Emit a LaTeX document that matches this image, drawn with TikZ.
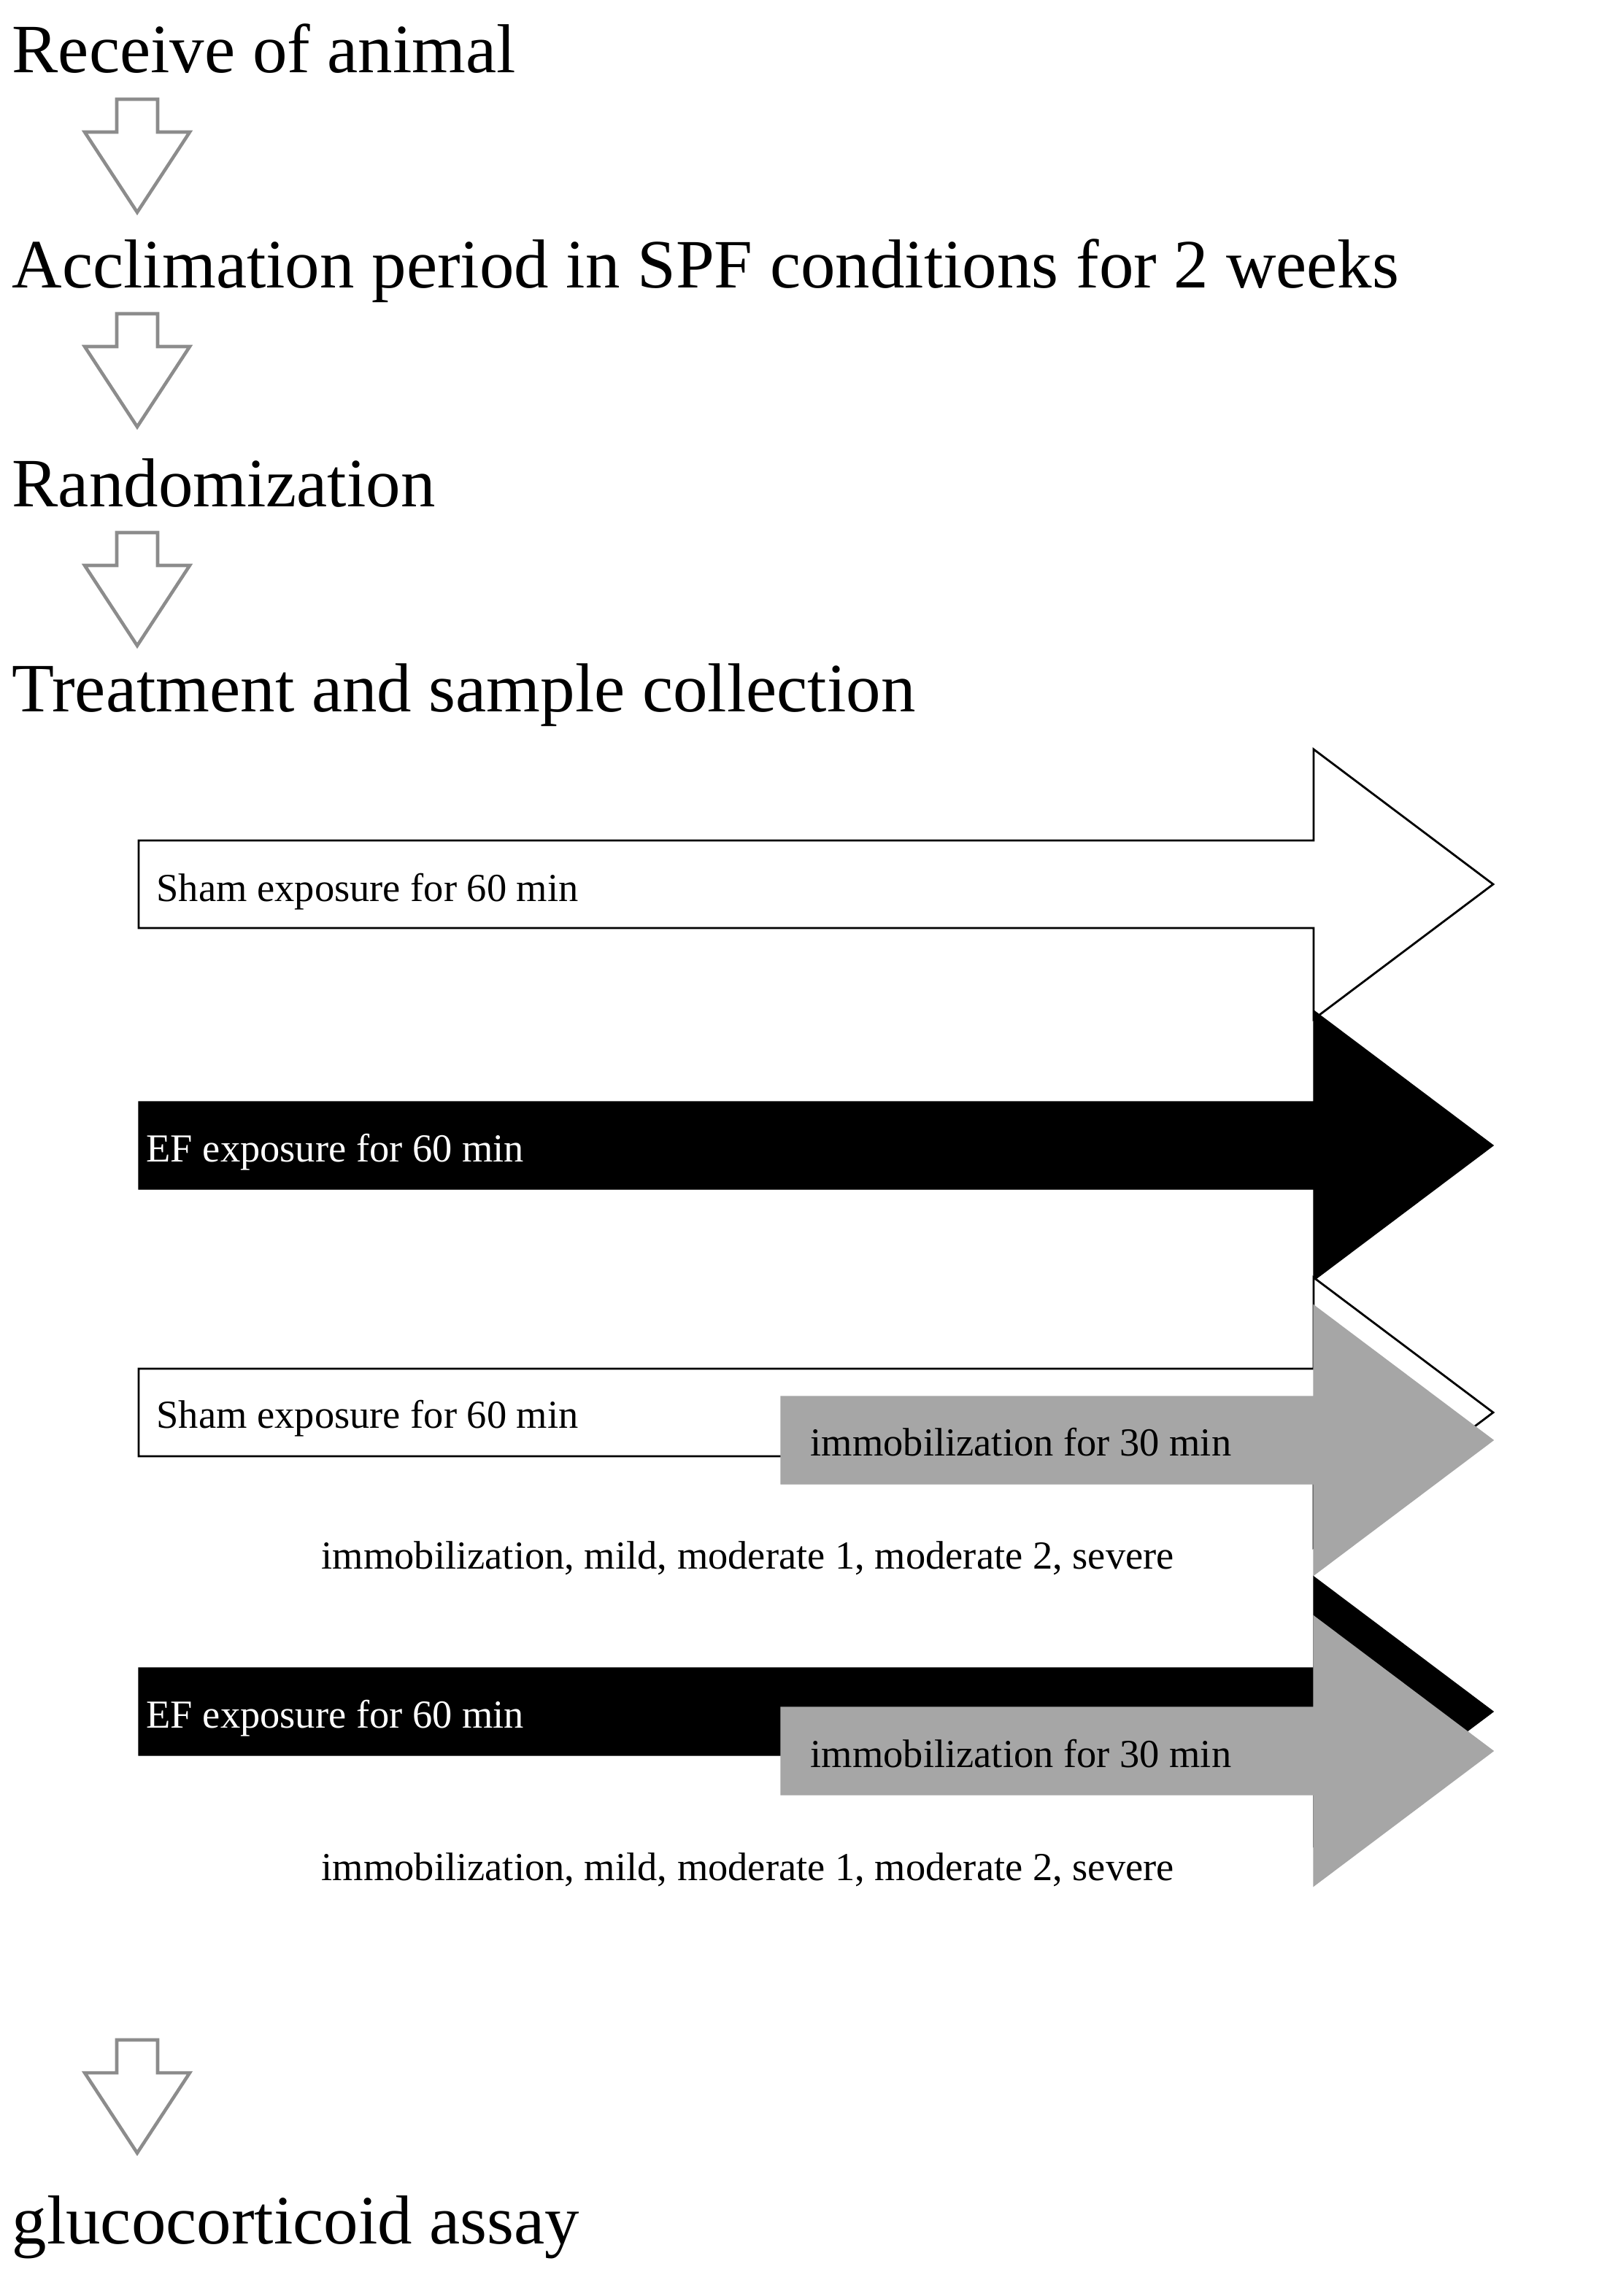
\documentclass[tikz,border=0pt]{standalone}
\usepackage{fontspec}
\setmainfont{Liberation Serif}
\tikzset{
  stage/.style={anchor=base west,inner sep=0pt,font=\fontsize{27}{30}\selectfont},
  grouptext/.style={anchor=base west,inner sep=0pt,font=\fontsize{15.5}{18}\selectfont},
  down/.style={draw=black!45,line width=1.3pt,fill=white},
}
% big arrow: style, shaft start x, tip x, centre y
\newcommand{\bigarrow}[4]{%
  \filldraw[#1] (#2,#4+0.6) -- (18,#4+0.6) -- (18,#4+1.85) -- (#3,#4)
    -- (18,#4-1.85) -- (18,#4-0.6) -- (#2,#4-0.6) -- cycle;}
% small hollow arrow, top at y
\newcommand{\stepdown}[1]{%
  \draw[down] (1.6,#1) -- (2.16,#1) -- (2.16,#1-0.45) -- (2.6,#1-0.45) -- (1.88,#1-1.55)
    -- (1.16,#1-0.45) -- (1.6,#1-0.45) -- cycle;}
\begin{document}
\begin{tikzpicture}
\useasboundingbox (0,0) rectangle (22.01,-31.47);
\node[stage] (receive) at (0.16,-1.0) {Receive of animal};
\stepdown{-1.36}
\node[stage] (acclim) at (0.16,-3.95) {Acclimation period in SPF conditions for 2 weeks};
\stepdown{-4.3}
\node[stage] (random) at (0.16,-6.95) {Randomization};
\stepdown{-7.3}
\node[stage] (treat) at (0.16,-9.75) {Treatment and sample collection};
% groups
\bigarrow{fill=white,draw=black,line width=0.8pt}{1.9}{20.46}{-12.12}
\node[grouptext] (sham1) at (2.14,-12.35) {Sham exposure for 60 min};
\bigarrow{fill=black,draw=black}{1.9}{20.46}{-15.7}
\node[grouptext,white] (ef1) at (2.0,-15.92) {EF exposure for 60 min};
\bigarrow{fill=white,draw=black,line width=0.8pt}{1.9}{20.46}{-19.36}
\node[grouptext] (sham2) at (2.14,-19.57) {Sham exposure for 60 min};
\bigarrow{fill=black!35,draw=black!35}{10.7}{20.46}{-19.74}
\node[grouptext] (immo1) at (11.1,-19.95) {immobilization for 30 min};
\node[grouptext] (grp1) at (4.4,-21.5) {immobilization, mild, moderate 1, moderate 2, severe};
\bigarrow{fill=black,draw=black}{1.9}{20.46}{-23.46}
\node[grouptext,white] (ef2) at (2.0,-23.68) {EF exposure for 60 min};
\bigarrow{fill=black!35,draw=black!35}{10.7}{20.46}{-24.0}
\node[grouptext] (immo2) at (11.1,-24.22) {immobilization for 30 min};
\node[grouptext] (grp2) at (4.4,-25.77) {immobilization, mild, moderate 1, moderate 2, severe};
\stepdown{-27.96}
\node[stage] (assay) at (0.16,-30.75) {glucocorticoid assay};
\end{tikzpicture}
\end{document}
